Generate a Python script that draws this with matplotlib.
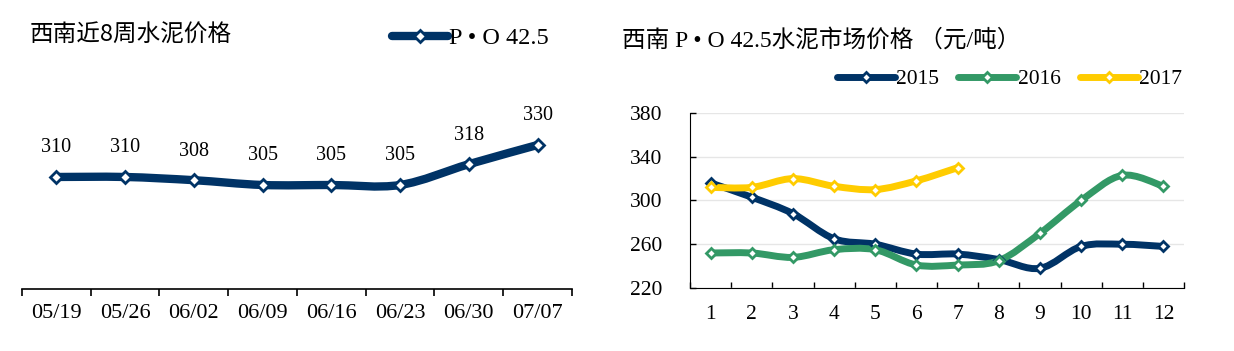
import numpy as np
import matplotlib.pyplot as plt
from matplotlib.path import Path
from matplotlib.patches import PathPatch
from matplotlib.lines import Line2D

# Left chart: last 8 weeks, P.O 42.5 cement price (southwest)
weeks = ["05/19", "05/26", "06/02", "06/09", "06/16", "06/23", "06/30", "07/07"]
week_prices = [310, 310, 308, 305, 305, 305, 318, 330]

# Right chart: monthly prices by year
months = ["1", "2", "3", "4", "5", "6", "7", "8", "9", "10", "11", "12"]
price_2015 = [316, 303, 288, 265, 260, 251, 251, 246, 238, 258, 260, 258]
price_2016 = [252, 252, 248, 255, 255, 241, 241, 245, 270, 300, 323, 313]
price_2017 = [312, 312, 320, 313, 310, 318, 330]

NAVY = "#003366"
GREEN = "#339966"
YELLOW = "#FFCC00"
SERIF = ["Liberation Serif", "Noto Sans CJK SC"]

plt.rcParams["font.family"] = SERIF


def smooth_path(x, y):
    # Excel-like smoothed line: cubic bezier through every point
    pts = np.column_stack([x, y]).astype(float)
    n = len(pts)
    verts = [pts[0]]
    codes = [Path.MOVETO]
    for i in range(n - 1):
        p0 = pts[max(i - 1, 0)]
        p1 = pts[i]
        p2 = pts[i + 1]
        p3 = pts[min(i + 2, n - 1)]
        verts += [p1 + (p2 - p0) / 6, p2 - (p3 - p1) / 6, p2]
        codes += [Path.CURVE4] * 3
    return Path(verts, codes)


def draw_series(ax, y, color, lw, ms):
    x = np.arange(len(y))
    patch = PathPatch(smooth_path(x, y), facecolor="none", edgecolor=color,
                      lw=lw, capstyle="round", joinstyle="round", zorder=3)
    ax.add_patch(patch)
    ax.plot(x, y, ls="none", marker="D", ms=ms, mfc="white", mec=color,
            mew=2, zorder=4)


fig = plt.figure(figsize=(12.34, 3.51), dpi=100)

# ---------------- left chart ----------------
ax1 = fig.add_axes([0.0178, 0.1766, 0.4457, 0.456])
draw_series(ax1, week_prices, NAVY, 6, 6)
for i, v in enumerate(week_prices):
    ax1.annotate(str(v), (i, v), xytext=(0, 21), textcoords="offset points",
                 ha="center", va="center", fontsize=14.5)
ax1.set_xlim(-0.5, len(weeks) - 0.5)
ax1.set_ylim(240, 340)
ax1.set_xticks(range(len(weeks)))
ax1.set_xticklabels(weeks, fontsize=16)
ax1.set_xticks(np.arange(-0.5, len(weeks)), minor=True)
ax1.tick_params(axis="x", which="major", length=0, pad=11)
ax1.tick_params(axis="x", which="minor", length=5, width=1.2, direction="out")
ax1.set_yticks([])
for s in ["top", "right", "left"]:
    ax1.spines[s].set_visible(False)
ax1.spines["bottom"].set_linewidth(1.2)

fig.text(30 / 1234, 1 - 35 / 351, "西南近8周水泥价格", fontsize=17,
         family=["Noto Sans CJK SC", "DejaVu Sans"], ha="left", va="center")
h1 = Line2D([], [], color=NAVY, lw=6, marker="D", ms=6, mfc="white", mec=NAVY,
            mew=2, solid_capstyle="round")
fig.legend([h1], ["P • O 42.5"], loc="center left",
           bbox_to_anchor=(380 / 1234, 1 - 38 / 351), frameon=False,
           fontsize=17.5, handlelength=2.3, handletextpad=0.05, borderpad=0)

# ---------------- right chart ----------------
ax2 = fig.add_axes([0.5592, 0.1795, 0.4003, 0.4986])
draw_series(ax2, price_2015, NAVY, 5, 5.5)
draw_series(ax2, price_2016, GREEN, 5, 5.5)
draw_series(ax2, price_2017, YELLOW, 5, 5.5)
ax2.set_xlim(-0.5, len(months) - 0.5)
ax2.set_ylim(220, 380)
ax2.set_yticks([220, 260, 300, 340, 380])
ax2.set_xticks(range(len(months)))
ax2.set_xticklabels(months, fontsize=15.5)
ax2.set_xticks(np.arange(-0.5, len(months)), minor=True)
ax2.tick_params(axis="x", which="major", length=0, pad=12)
ax2.tick_params(axis="x", which="minor", length=4, width=1, direction="in")
ax2.tick_params(axis="y", length=4, width=1, direction="in", pad=20, labelsize=15.5)
ax2.grid(axis="y", color="#e6e6e6", lw=1)
ax2.set_axisbelow(True)
for s in ["top", "right"]:
    ax2.spines[s].set_visible(False)

fig.text(622 / 1234, 1 - 40 / 351, "西南 P • O 42.5水泥市场价格 （元/吨）",
         fontsize=17, ha="left", va="center")
handles = [Line2D([], [], color=c, lw=5, marker="D", ms=5.5, mfc="white", mec=c,
                  mew=2, solid_capstyle="round") for c in (NAVY, GREEN, YELLOW)]
fig.legend(handles, ["2015", "2016", "2017"], loc="center left",
           bbox_to_anchor=(826 / 1234, 1 - 79 / 351), frameon=False, ncol=3,
           fontsize=15.5, handlelength=2.7, handletextpad=0.05, columnspacing=0.9,
           borderpad=0)

fig.savefig("out.png", dpi=100)
